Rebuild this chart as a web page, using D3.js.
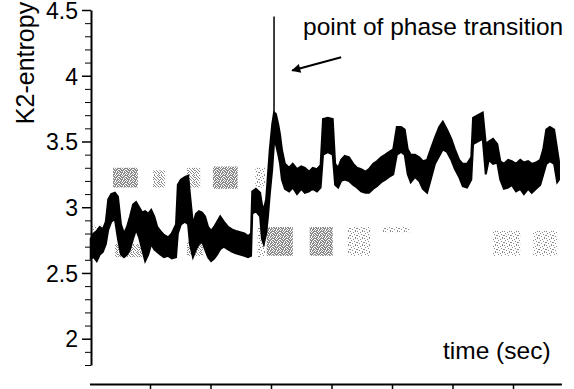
<!DOCTYPE html>
<html>
<head>
<meta charset="utf-8">
<script src="https://cdn.jsdelivr.net/npm/d3@7"></script>
<style>
  html, body { margin: 0; padding: 0; background: #fff; }
  svg text { font-family: "Liberation Sans", Arial, sans-serif; fill: #000; }
</style>
</head>
<body>
<div id="chart"></div>
<script>
// time ticks (sec) and entropy ticks
const timeTicks = [1, 2, 3, 4, 5, 6, 7];
const entropyMajor = [2, 2.5, 3, 3.5, 4, 4.5];

// K2-entropy trace, read as an envelope (low / high) along time
const traceTime = [0.02,0.07,0.12,0.17,0.22,0.27,0.31,0.36,0.42,0.47,
  0.52,0.57,0.62,0.67,0.72,0.77,0.82,0.87,0.92,0.97,
  1.02,1.07,1.12,1.17,1.23,1.30,1.36,1.43,1.46,1.51,
  1.58,1.63,1.66,1.71,1.76,1.81,1.86,1.91,1.96,2.01,
  2.06,2.11,2.16,2.22,2.29,2.36,2.42,2.49,2.56,2.62,
  2.67,2.69,2.75,2.82,2.85,2.88,2.92,2.95,2.98,3.02,
  3.05,3.08,3.12,3.15,3.18,3.23,3.30,3.36,3.43,3.50,
  3.56,3.63,3.69,3.76,3.82,3.86,3.94,4.02,4.06,4.11,
  4.16,4.22,4.29,4.36,4.42,4.49,4.56,4.62,4.69,4.75,
  4.82,4.89,4.95,5.02,5.08,5.15,5.21,5.26,5.31,5.38,
  5.45,5.51,5.58,5.64,5.71,5.78,5.84,5.91,5.98,6.04,
  6.11,6.17,6.24,6.31,6.34,6.42,6.50,6.55,6.60,6.67,
  6.74,6.79,6.85,6.92,6.98,7.05,7.12,7.18,7.25,7.31,
  7.38,7.45,7.50,7.55,7.61,7.68,7.73,7.76];
const traceHigh = [2.76,2.80,2.82,2.85,2.83,2.89,3.06,3.10,3.11,3.08,
  2.87,2.80,2.85,2.93,3.02,3.04,3.00,2.96,2.97,2.95,
  2.98,2.93,2.85,2.82,2.79,2.77,2.80,2.87,3.17,3.21,
  3.23,3.24,3.10,2.87,2.95,2.97,2.96,2.93,2.85,2.82,
  2.85,2.89,2.93,2.89,2.85,2.83,2.82,2.81,2.80,2.78,
  2.80,3.12,3.14,3.11,3.02,2.98,3.06,3.25,3.44,3.63,
  3.72,3.71,3.63,3.55,3.44,3.33,3.30,3.33,3.29,3.31,
  3.30,3.27,3.30,3.29,3.32,3.67,3.68,3.67,3.33,3.30,
  3.36,3.39,3.38,3.33,3.30,3.29,3.27,3.29,3.33,3.35,
  3.38,3.40,3.42,3.44,3.61,3.61,3.59,3.44,3.40,3.40,
  3.38,3.35,3.36,3.44,3.53,3.61,3.65,3.59,3.52,3.44,
  3.36,3.33,3.33,3.38,3.68,3.70,3.72,3.48,3.50,3.52,
  3.48,3.35,3.33,3.36,3.35,3.33,3.36,3.34,3.35,3.33,
  3.34,3.36,3.44,3.59,3.61,3.59,3.44,3.35];
const traceLow = [2.61,2.62,2.59,2.64,2.66,2.72,2.83,2.89,2.91,2.76,
  2.64,2.62,2.64,2.68,2.76,2.83,2.77,2.68,2.59,2.64,
  2.72,2.68,2.66,2.64,2.62,2.63,2.61,2.62,2.80,2.87,
  2.89,2.87,2.72,2.62,2.68,2.72,2.74,2.68,2.62,2.59,
  2.61,2.64,2.68,2.70,2.68,2.66,2.65,2.64,2.63,2.62,
  2.63,2.95,2.97,2.93,2.76,2.72,2.80,2.93,3.10,3.29,
  3.49,3.48,3.40,3.33,3.21,3.14,3.12,3.15,3.10,3.14,
  3.11,3.12,3.14,3.12,3.15,3.40,3.42,3.40,3.17,3.15,
  3.20,3.21,3.20,3.17,3.15,3.12,3.11,3.11,3.14,3.16,
  3.19,3.21,3.23,3.25,3.40,3.42,3.40,3.25,3.19,3.23,
  3.20,3.14,3.11,3.21,3.33,3.39,3.44,3.42,3.36,3.29,
  3.23,3.16,3.15,3.21,3.48,3.50,3.52,3.25,3.36,3.33,
  3.34,3.21,3.14,3.15,3.17,3.12,3.14,3.10,3.14,3.11,
  3.14,3.17,3.25,3.33,3.35,3.33,3.19,3.21];

// grey stippled regions behind the trace
const blockStart = [0.39, 1.05, 1.61, 2.04, 2.74, 0.04, 0.42, 1.61, 2.78, 2.93, 3.64, 4.27, 4.85, 6.67, 7.33];
const blockEnd   = [0.80, 1.25, 1.83, 2.45, 2.90, 0.26, 0.87, 1.88, 2.90, 3.36, 4.02, 4.64, 5.30, 7.12, 7.73];
const blockLow   = [3.15, 3.15, 3.15, 3.14, 3.15, 2.80, 2.62, 2.63, 2.62, 2.63, 2.63, 2.63, 2.81, 2.63, 2.63];
const blockHigh  = [3.30, 3.28, 3.30, 3.31, 3.30, 2.86, 2.72, 2.74, 2.85, 2.85, 2.85, 2.85, 2.85, 2.82, 2.82];
const blockDensity = ["dense","medium","medium","dense","sparse","sparse","medium","medium","sparse","dense","dense","sparse","sparse","sparse","sparse"];

// phase transition marker
const spikeTime = 3.05, spikeTop = 4.45, spikeBottom = 3.72;
const arrowFrom = [4.16, 4.14], arrowTo = [3.35, 4.04];

let width = 574, height = 389;
let svg = d3.select("#chart").append("svg").attr("width", width).attr("height", height);

let x = d3.scaleLinear().domain([0, 7.8]).range([89.5, 561.4]);
let y = d3.scaleLinear().domain([1.8, 4.5]).range([365, 10]);

// stipple patterns
let tiles = {
  dense:  ["1101011","0110110","1011101","1101010","0111011","1010110","0110101"],
  medium: ["1001010","0100100","0010011","1001000","0100101","0010010","1000100"],
  sparse: ["1000010","0001000","0100000","0000100","1000001","0010000","0000010"]
};
let defs = svg.append("defs");
Object.keys(tiles).forEach(function (name) {
  let p = defs.append("pattern").attr("id", "st-" + name)
    .attr("patternUnits", "userSpaceOnUse").attr("width", 7).attr("height", 7);
  tiles[name].forEach(function (row, r) {
    row.split("").forEach(function (c, k) {
      if (c === "1") p.append("rect").attr("x", k).attr("y", r).attr("width", 1).attr("height", 1).attr("fill", "#8a8a8a");
    });
  });
});
defs.append("marker").attr("id", "head").attr("viewBox", "0 0 10 10")
  .attr("refX", 9).attr("refY", 5).attr("markerWidth", 8).attr("markerHeight", 4.5)
  .attr("markerUnits", "strokeWidth").attr("orient", "auto")
  .append("path").attr("d", "M0,0L10,5L0,10z").attr("fill", "#000");

// grey blocks
let blocks = blockStart.map((s, i) => ({ s: s, e: blockEnd[i], lo: blockLow[i], hi: blockHigh[i], d: blockDensity[i] }));
svg.append("g").selectAll("rect").data(blocks).enter().append("rect")
  .attr("x", d => x(d.s)).attr("width", d => x(d.e) - x(d.s))
  .attr("y", d => y(d.hi)).attr("height", d => y(d.lo) - y(d.hi))
  .attr("fill", d => "url(#st-" + d.d + ")");

// trace envelope
let trace = traceTime.map((t, i) => ({ t: t, lo: traceLow[i], hi: traceHigh[i] }));
let area = d3.area().x(d => x(d.t)).y0(d => y(d.lo)).y1(d => y(d.hi));
svg.append("path").datum(trace).attr("d", area).attr("fill", "#000")
  .attr("stroke", "#000").attr("stroke-width", 2).attr("stroke-linejoin", "miter");

// spike at the transition
svg.append("line")
  .attr("x1", x(spikeTime)).attr("x2", x(spikeTime))
  .attr("y1", y(spikeTop)).attr("y2", y(spikeBottom))
  .attr("stroke", "#000").attr("stroke-width", 1.5);

// axes
let yAxis = d3.axisLeft(y).tickValues(entropyMajor).tickSize(9).tickPadding(4)
  .tickFormat(d3.format("")).tickSizeOuter(0);
let yMinor = d3.axisLeft(y).tickValues(d3.range(18, 46).map(v => v / 10).filter(v => Math.abs(v * 2 - Math.round(v * 2)) > 1e-6))
  .tickSize(6).tickFormat("").tickSizeOuter(0);
let gy = svg.append("g").attr("transform", "translate(91,0)").call(yAxis);
svg.append("g").attr("transform", "translate(91,0)").call(yMinor).select(".domain").remove();
gy.select(".domain").attr("stroke-width", 2);
gy.selectAll(".tick line").attr("stroke-width", 1.5);
gy.selectAll("text").style("font-size", "23px").attr("dy", "0.36em")
  .style("font-family", '"Liberation Sans", Arial, sans-serif');

let xAxis = d3.axisBottom(x).tickValues(timeTicks).tickSize(6).tickFormat("").tickSizeOuter(0);
let gx = svg.append("g").attr("transform", "translate(0,384)").call(xAxis);
gx.select(".domain").attr("stroke-width", 2);
gx.selectAll(".tick line").attr("stroke-width", 1.5);

// labels
svg.append("text").attr("transform", "translate(34,63) rotate(-90)")
  .attr("text-anchor", "middle").style("font-size", "25px").text("K2-entropy");
svg.append("text").attr("x", 303).attr("y", 35).style("font-size", "24.5px").text("point of phase transition");
svg.append("text").attr("x", 443).attr("y", 359).style("font-size", "24.5px").text("time (sec)");

// arrow
svg.append("line")
  .attr("x1", x(arrowFrom[0])).attr("y1", y(arrowFrom[1]))
  .attr("x2", x(arrowTo[0])).attr("y2", y(arrowTo[1]))
  .attr("stroke", "#000").attr("stroke-width", 2).attr("marker-end", "url(#head)");
</script>
</body>
</html>
